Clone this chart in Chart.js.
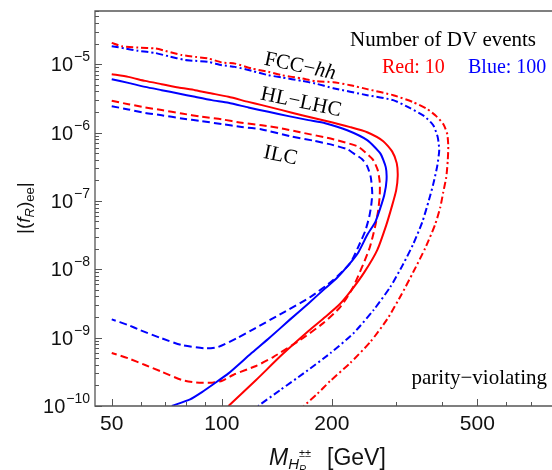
<!DOCTYPE html>
<html>
<head>
<meta charset="utf-8">
<script src="https://cdn.jsdelivr.net/npm/chart.js@4.4.1/dist/chart.umd.min.js"></script>
<style>
  html, body { margin: 0; padding: 0; background: #fff; }
</style>
</head>
<body>
<canvas id="myChart" width="552" height="470"></canvas>
<script>
// tick values
var massTicks = [50, 100, 200, 500];
var massMinorTicks = [60, 70, 80, 90, 300, 400, 600, 700, 800];
var coupTicks = [1e-10, 1e-9, 1e-8, 1e-7, 1e-6, 1e-5];

// FCC-hh, dot-dashed
var fccRedMass = [50, 53.3, 59.1, 65.7, 70.0, 77.7, 84.5, 91.9, 100, 108.7, 120.8, 134.1, 146, 165.6, 180, 201.7, 224.5, 249.8, 294.3, 333.9, 364.8, 385.9, 403.4, 413.6, 416.3, 415, 411.1, 403.4, 395.9, 383.6, 360.1, 333.9, 309.5, 283.5, 254.6, 224.5, 197.9, 182.3, 167.5];
var fccRedCoup = [2.05e-5, 1.83e-5, 1.75e-5, 1.70e-5, 1.57e-5, 1.36e-5, 1.28e-5, 1.21e-5, 1.06e-5, 1.02e-5, 8.65e-6, 7.73e-6, 6.9e-6, 6.18e-6, 5.65e-6, 5.46e-6, 4.93e-6, 4.32e-6, 3.52e-6, 2.78e-6, 2.2e-6, 1.74e-6, 1.33e-6, 9.5e-7, 6.32e-7, 3.96e-7, 2.23e-7, 1.35e-7, 8.1e-8, 4.58e-8, 2.04e-8, 9.1e-9, 4.2e-9, 1.87e-9, 8.6e-10, 4.26e-10, 2.32e-10, 1.5e-10, 1e-10];
var fccBlueMass = [50, 54.4, 59.1, 65.7, 71.4, 79.4, 84.5, 91.9, 100, 108.7, 120.8, 134.1, 146, 165.6, 180, 201.7, 249.8, 294.3, 327.6, 357.8, 378.7, 389.5, 393.2, 388.3, 378.7, 368.6, 353.4, 333.9, 313.4, 288.9, 260, 229.2, 197.9, 167.3, 144.4, 125.7];
var fccBlueCoup = [1.83e-5, 1.70e-5, 1.57e-5, 1.46e-5, 1.31e-5, 1.15e-5, 1.12e-5, 1.08e-5, 9.67e-6, 9.14e-6, 7.98e-6, 6.9e-6, 6.4e-6, 5.7e-6, 5.22e-6, 4.46e-6, 3.52e-6, 2.98e-6, 2.27e-6, 1.74e-6, 1.28e-6, 8.57e-7, 5.53e-7, 3.23e-7, 1.76e-7, 1.03e-7, 4.9e-8, 2.34e-8, 1.19e-8, 5.5e-9, 2.53e-9, 1.16e-9, 5.89e-10, 3.0e-10, 1.71e-10, 1e-10];

// HL-LHC, solid
var hlRedMass = [50, 55.5, 61.7, 68.5, 76.1, 84.5, 93.9, 104.3, 118.2, 128.7, 146, 165.6, 191.8, 224.5, 249.8, 276.4, 292.5, 300.9, 302.8, 299.9, 292.5, 281.7, 266.1, 245.2, 226, 210.4, 191.8, 172.6, 146, 124.1, 104.3];
var hlRedCoup = [7.15e-6, 6.52e-6, 5.70e-6, 5.1e-6, 4.56e-6, 4.17e-6, 3.73e-6, 3.33e-6, 2.81e-6, 2.52e-6, 2.13e-6, 1.79e-6, 1.49e-6, 1.2e-6, 1.01e-6, 7.48e-7, 5.26e-7, 3.57e-7, 2.31e-7, 1.44e-7, 8.68e-8, 4.43e-8, 1.91e-8, 9.0e-9, 4.9e-9, 3.1e-9, 2.0e-9, 1.25e-9, 5.6e-10, 2.4e-10, 1e-10];
var hlBlueMass = [50, 55.5, 61.7, 68.5, 76.1, 84.5, 93.9, 104.3, 118.2, 134.1, 152.2, 172.6, 191.8, 220.3, 249.8, 271.3, 280.8, 282.2, 278.2, 271.3, 262.8, 250, 236, 222, 207, 191.8, 172.6, 153.8, 134.1, 120, 104.3, 95, 88.3, 81.9, 73.0];
var hlBlueCoup = [6.04e-6, 5.33e-6, 4.66e-6, 4.17e-6, 3.73e-6, 3.33e-6, 2.98e-6, 2.72e-6, 2.33e-6, 2.01e-6, 1.74e-6, 1.52e-6, 1.37e-6, 1.08e-6, 7.74e-7, 4.95e-7, 3.12e-7, 2.01e-7, 1.22e-7, 7.85e-8, 4.9e-8, 3.2e-8, 1.75e-8, 1.15e-8, 7.6e-9, 5.26e-9, 3.17e-9, 1.85e-9, 9.6e-10, 5.8e-10, 3.0e-10, 2.1e-10, 1.6e-10, 1.25e-10, 1e-10];

// ILC, dashed
var ilcRedMass = [50, 55.5, 61.7, 68.5, 77.7, 88.2, 100, 113.4, 128.7, 146, 163.8, 201.7, 234.6, 246.7, 259.5, 267, 270.4, 270.4, 267.8, 262.8, 253, 228.8, 210.8, 189.4, 163.8, 138.2, 124.1, 108.7, 100.2, 94.1, 85.1, 77.7, 68.5, 61.7, 55.5, 50];
var ilcRedCoup = [2.91e-6, 2.60e-6, 2.33e-6, 2.13e-6, 1.90e-6, 1.70e-6, 1.56e-6, 1.39e-6, 1.28e-6, 1.15e-6, 1.01e-6, 8.0e-7, 6.32e-7, 5.17e-7, 3.96e-7, 2.82e-7, 1.88e-7, 1.22e-7, 7.34e-8, 4.28e-8, 1.97e-8, 5.5e-9, 2.8e-9, 1.63e-9, 9.23e-10, 5.2e-10, 3.85e-10, 2.94e-10, 2.34e-10, 2.19e-10, 2.21e-10, 2.4e-10, 3.17e-10, 3.98e-10, 4.98e-10, 5.96e-10];
var ilcBlueMass = [50, 55.5, 61.7, 68.5, 77.7, 88.2, 100, 113.4, 128.7, 153.8, 177.8, 201.7, 220.3, 228.8, 242.1, 249.8, 255.5, 257.9, 256.3, 253, 246.7, 236, 224.5, 201.7, 174.5, 146, 123.3, 110.1, 97.7, 90.0, 77.7, 68.5, 59.8, 55.4, 50];
var ilcBlueCoup = [2.43e-6, 2.18e-6, 1.94e-6, 1.79e-6, 1.61e-6, 1.47e-6, 1.33e-6, 1.21e-6, 1.11e-6, 8.86e-7, 7.62e-7, 6.55e-7, 5.71e-7, 5.0e-7, 4.08e-7, 3.23e-7, 2.23e-7, 1.3e-7, 8.68e-8, 5.8e-8, 3.62e-8, 2.11e-8, 1.23e-8, 6.95e-9, 3.92e-9, 2.27e-9, 1.37e-9, 9.87e-10, 7.29e-10, 6.98e-10, 7.8e-10, 9.77e-10, 1.29e-9, 1.53e-9, 1.85e-9];

var RED = '#ff0000', BLUE = '#0000ff';
var DOTDASH = [7, 3, 2, 3], DASH = [7.5, 4];
var SERIF = '"Liberation Serif", "Times New Roman", serif';
var SANS = '"Liberation Sans", Arial, sans-serif';

// curve labels, placed in data coordinates
var curveLabels = [
    {parts: [['FCC\u2212', ''], ['hh', 'italic ']], mass: 164, coup: 9.7e-6},
    {parts: [['HL\u2212LHC', '']], mass: 165, coup: 2.9e-6},
    {parts: [['ILC', '']], mass: 145, coup: 4.8e-7}
];

function pairs(mass, coup){
    var pts = [];
    for(var i = 0; i < mass.length; i++){
        pts.push({x: mass[i], y: coup[i]});
    }
    return pts;
}

function curve(mass, coup, color, dash){
    return {
        data: pairs(mass, coup),
        borderColor: color,
        borderWidth: 2,
        borderDash: dash,
        showLine: true,
        pointRadius: 0,
        tension: 0.2,
        fill: false
    };
}

function supText(ctx, x, y, parts){
    // parts: [text, font, dy]
    for(var i = 0; i < parts.length; i++){
        ctx.font = parts[i][1];
        ctx.fillText(parts[i][0], x, y + parts[i][2]);
        x += ctx.measureText(parts[i][0]).width;
    }
    return x;
}

var decorations = {
    id: 'decorations',
    afterDatasetsDraw: function(chart){
        var ctx = chart.ctx;
        var a = chart.chartArea;
        var xs = chart.scales.x, ys = chart.scales.y;
        ctx.save();

        // frame
        ctx.strokeStyle = '#555';
        ctx.lineWidth = 1.3;
        ctx.beginPath();
        ctx.moveTo(a.right + 3, a.top);
        ctx.lineTo(a.left, a.top);
        ctx.lineTo(a.left, a.bottom);
        ctx.lineTo(a.right + 3, a.bottom);
        ctx.stroke();

        // ticks, inside the frame
        ctx.lineWidth = 1;
        ctx.beginPath();
        massTicks.forEach(function(v){
            var px = Math.round(xs.getPixelForValue(v)) + 0.5;
            ctx.moveTo(px, a.bottom); ctx.lineTo(px, a.bottom - 7);
        });
        massMinorTicks.forEach(function(v){
            var px = Math.round(xs.getPixelForValue(v)) + 0.5;
            ctx.moveTo(px, a.bottom); ctx.lineTo(px, a.bottom - 4);
        });
        coupTicks.forEach(function(v){
            var py = Math.round(ys.getPixelForValue(v)) + 0.5;
            ctx.moveTo(a.left, py); ctx.lineTo(a.left + 7, py);
            for(var k = 2; k <= 9; k++){
                var pm = Math.round(ys.getPixelForValue(v * k)) + 0.5;
                if(pm < a.top) break;
                ctx.moveTo(a.left, pm); ctx.lineTo(a.left + 4, pm);
            }
        });
        ctx.stroke();

        // tick labels
        ctx.fillStyle = '#111';
        ctx.textAlign = 'center';
        ctx.font = '21px ' + SANS;
        massTicks.forEach(function(v){
            ctx.fillText(String(v), xs.getPixelForValue(v), 430);
        });
        ctx.textAlign = 'left';
        coupTicks.forEach(function(v){
            var py = ys.getPixelForValue(v);
            var ex = '\u2212' + Math.round(-Math.log10(v));
            ctx.font = '14px ' + SANS;
            var we = ctx.measureText(ex).width;
            ctx.fillText(ex, a.left - 5 - we, py - 3);
            ctx.font = '20px ' + SANS;
            var wb = ctx.measureText('10').width;
            ctx.fillText('10', a.left - 6 - we - wb, py + 7);
        });

        // x axis title
        var x = 269;
        x = supText(ctx, x, 465, [['M', 'italic 23px ' + SANS, 0]]);
        ctx.font = 'italic 15px ' + SANS;
        ctx.fillText('H', x, 469);
        x += ctx.measureText('H').width;
        ctx.font = '11px ' + SANS;
        ctx.fillText('\u00b1\u00b1', x, 457);
        ctx.font = 'italic 10px ' + SANS;
        ctx.fillText('R', x, 473);
        ctx.font = '23px ' + SANS;
        ctx.fillText('[GeV]', 327, 465);

        // y axis title
        ctx.save();
        ctx.translate(30, 234);
        ctx.rotate(-Math.PI / 2);
        supText(ctx, 0, 0, [
            ['|(', '19px ' + SANS, 0],
            ['f', 'italic 19px ' + SANS, 0],
            ['R', 'italic 13px ' + SANS, 4],
            [')', '19px ' + SANS, 0],
            ['ee', '13px ' + SANS, 4],
            ['|', '19px ' + SANS, 0]
        ]);
        ctx.restore();

        // curve labels
        ctx.fillStyle = '#000';
        curveLabels.forEach(function(lab){
            var cx = xs.getPixelForValue(lab.mass), cy = ys.getPixelForValue(lab.coup);
            var w = 0;
            lab.parts.forEach(function(p){ ctx.font = p[1] + '21px ' + SERIF; w += ctx.measureText(p[0]).width; });
            ctx.save();
            ctx.translate(cx, cy);
            ctx.rotate(12 * Math.PI / 180);
            var lx = -w / 2;
            lab.parts.forEach(function(p){
                ctx.font = p[1] + '21px ' + SERIF;
                ctx.fillText(p[0], lx, 7);
                lx += ctx.measureText(p[0]).width;
            });
            ctx.restore();
        });

        // legend notes
        ctx.font = '21px ' + SERIF;
        ctx.fillText('Number of DV events', 350, 46);
        ctx.font = '20px ' + SERIF;
        ctx.fillStyle = RED;
        ctx.fillText('Red: 10', 382, 73);
        ctx.fillStyle = BLUE;
        ctx.fillText('Blue: 100', 468, 73);
        ctx.fillStyle = '#000';
        ctx.font = '21px ' + SERIF;
        ctx.textAlign = 'right';
        ctx.fillText('parity\u2212violating', 547, 384);

        ctx.restore();
    }
};

var ctx = document.getElementById('myChart').getContext('2d');
var chart = new Chart(ctx, {
    type: 'scatter',
    data: {
        datasets: [
            curve(fccRedMass, fccRedCoup, RED, DOTDASH),
            curve(fccBlueMass, fccBlueCoup, BLUE, DOTDASH),
            curve(hlRedMass, hlRedCoup, RED, []),
            curve(hlBlueMass, hlBlueCoup, BLUE, []),
            curve(ilcRedMass, ilcRedCoup, RED, DASH),
            curve(ilcBlueMass, ilcBlueCoup, BLUE, DASH)
        ]
    },
    options: {
        responsive: false,
        animation: false,
        events: [],
        layout: {padding: {top: 11, right: 0, left: 0, bottom: 0}},
        plugins: {legend: {display: false}, tooltip: {enabled: false}},
        scales: {
            x: {
                type: 'logarithmic', min: 45, max: 800,
                grid: {display: false}, border: {display: false},
                ticks: {display: false},
                afterFit: function(s){ s.height = 64; }
            },
            y: {
                type: 'logarithmic', min: 1e-10, max: 6e-5,
                grid: {display: false}, border: {display: false},
                ticks: {display: false},
                afterFit: function(s){ s.width = 95; }
            }
        }
    },
    plugins: [decorations]
});
</script>
</body>
</html>
